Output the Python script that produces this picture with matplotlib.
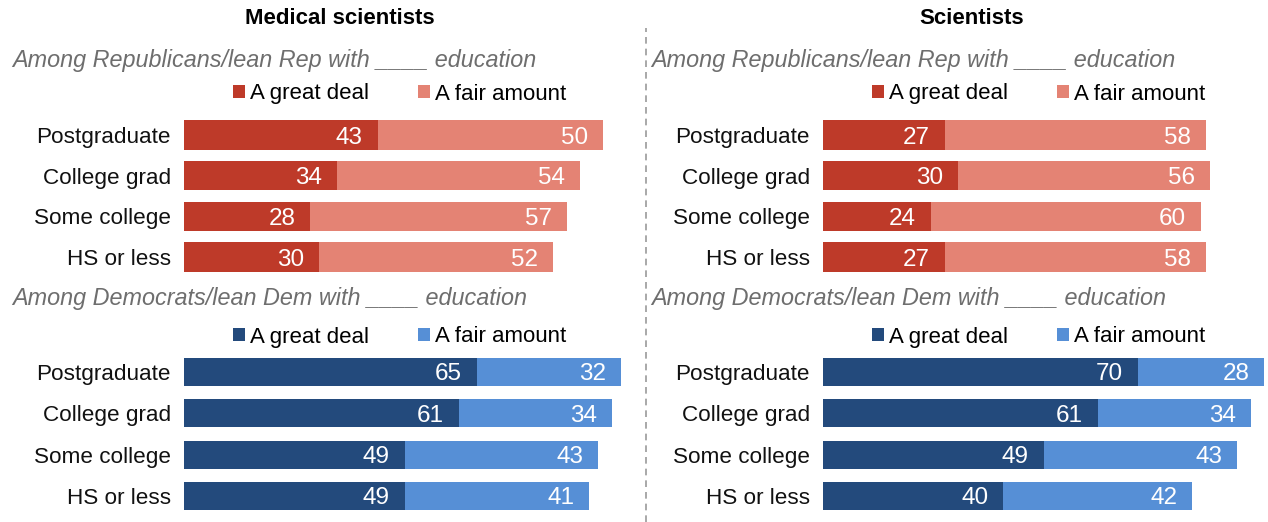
import matplotlib
matplotlib.use("Agg")
import matplotlib.pyplot as plt
from matplotlib.patches import Patch
from matplotlib.lines import Line2D

plt.rcParams['font.family'] = ['Liberation Sans', 'DejaVu Sans']

# data
categories = ["Postgraduate", "College grad", "Some college", "HS or less"]
series_names = ["A great deal", "A fair amount"]

med_rep_great = [43, 34, 28, 30]
med_rep_fair = [50, 54, 57, 52]
med_dem_great = [65, 61, 49, 49]
med_dem_fair = [32, 34, 43, 41]

sci_rep_great = [27, 30, 24, 27]
sci_rep_fair = [58, 56, 60, 58]
sci_dem_great = [70, 61, 49, 40]
sci_dem_fair = [28, 34, 43, 42]

panel_titles = ["Medical scientists", "Scientists"]
rep_subtitle = "Among Republicans/lean Rep with ____ education"
dem_subtitle = "Among Democrats/lean Dem with ____ education"

rep_colors = ["#BE3A29", "#E48374"]
dem_colors = ["#234A7C", "#568FD6"]

W, H = 1268, 522
fig = plt.figure(figsize=(W / 100, H / 100), dpi=100)
FS = 16.2
PX_PER_UNIT = 4.5
XMAX = 98


def rect(x0, top, w, h):
    return [x0 / W, 1 - (top + h) / H, w / W, h / H]


def draw_group(x0, top, height, great, fair, colors, bar_h):
    ax = fig.add_axes(rect(x0, top, XMAX * PX_PER_UNIT, height))
    y = range(len(categories))
    ax.barh(y, great, height=bar_h, color=colors[0])
    ax.barh(y, fair, left=great, height=bar_h, color=colors[1])
    pad = 3.3
    for i in y:
        ax.text(great[i] - pad, i, str(great[i]), ha='right',
                va='center_baseline', color='white', fontsize=17.5)
        ax.text(great[i] + fair[i] - pad, i, str(fair[i]), ha='right',
                va='center_baseline', color='white', fontsize=17.5)
    ax.set_xlim(0, XMAX)
    ax.set_ylim(3.5, -0.5)
    ax.set_yticks(list(y))
    ax.set_yticklabels(categories, fontsize=FS, color='#111111')
    ax.tick_params(axis='y', length=0, pad=9.5)
    ax.set_xticks([])
    for s in ax.spines.values():
        s.set_visible(False)
    return ax


def legend(x, ycen, colors):
    handles = [Patch(facecolor=c, edgecolor='none') for c in colors]
    fig.legend(handles, series_names, loc='center left',
               bbox_to_anchor=(x / W, 1 - ycen / H), ncol=2, frameon=False,
               fontsize=16, handlelength=0.55, handleheight=0.55,
               handletextpad=0.22, columnspacing=2.2, borderpad=0,
               borderaxespad=0)


panels = [
    (184, 12, 340, med_rep_great, med_rep_fair, med_dem_great, med_dem_fair, 0),
    (823, 651, 972, sci_rep_great, sci_rep_fair, sci_dem_great, sci_dem_fair, 1),
]

for x0, sx, tx, rg, rf, dg, df, k in panels:
    fig.text(tx / W, 1 - 19 / H, panel_titles[k], ha='center', va='center',
             fontsize=16, fontweight='bold')
    fig.text(sx / W, 1 - 61 / H, rep_subtitle, ha='left', va='center',
             fontsize=16.8, style='italic', color='#6E6E6E')
    legend(x0 + 49, 94, rep_colors)
    draw_group(x0, 114.7, 162.7, rg, rf, rep_colors, 0.72)
    fig.text(sx / W, 1 - 298 / H, dem_subtitle, ha='left', va='center',
             fontsize=16.8, style='italic', color='#6E6E6E')
    legend(x0 + 49, 337, dem_colors)
    draw_group(x0, 351.3, 165.3, dg, df, dem_colors, 0.68)

fig.add_artist(Line2D([646 / W, 646 / W], [0, 1 - 28 / H], color='#9A9A9A',
                      linewidth=1.2, linestyle=(0, (4, 3))))

fig.savefig("out.png", dpi=100)
